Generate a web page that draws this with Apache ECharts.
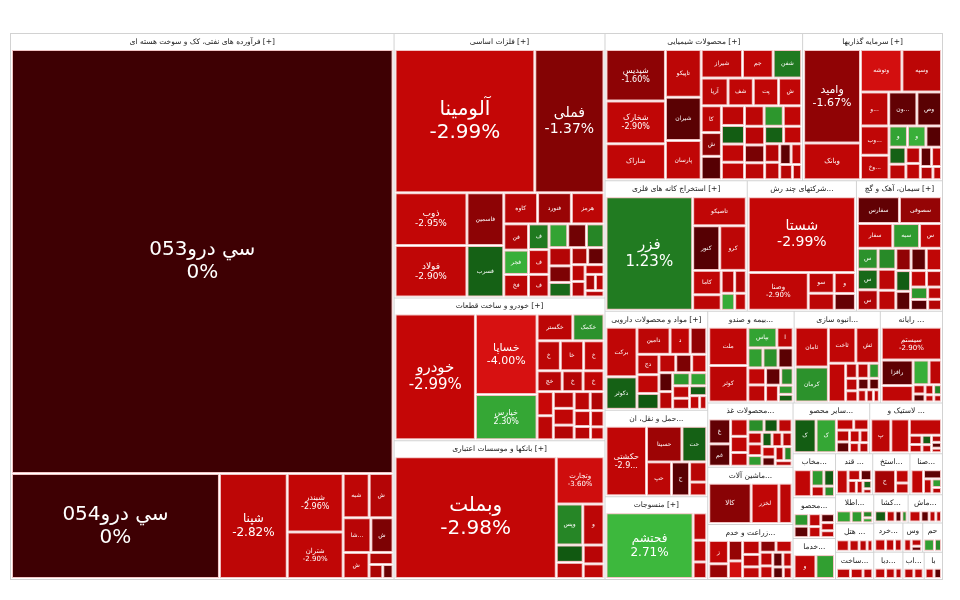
<!DOCTYPE html>
<html>
<head>
<meta charset="utf-8">
<script src="https://cdn.jsdelivr.net/npm/echarts@6/dist/echarts.min.js"></script>
<style>
  html, body { margin: 0; background: #fff; }
  #main { width: 960px; height: 600px; }
</style>
</head>
<body>
<div id="main"></div>
<script>
// [name, market value, change %]
const oil = [
  ['سي درو053', 1680, 0], ['سي درو054', 227, 0], ['شپنا', 74, -2.82],
  ['شبندر', 34, -2.96], ['شتران', 27, -2.9], ['شبهرن', 12, -2.85], ['شبریز', 11, -2.6],
  ['شاوان', 10, -2.7], ['شفارس', 8, -1.2], ['شسپا', 7, -2.9], ['شرانل', 3, -2.5],
  ['شنفت', 2, -2.4], ['شاملا', 1.5, -0.8]
];
const metals = [
  ['آلومینا', 216, -2.99], ['فملی', 107, -1.37], ['ذوب', 41, -2.95], ['فولاد', 40, -2.9],
  ['فاسمین', 21, -1.6], ['فسرب', 20.5, 0.6], ['فنورد', 11.4, -1.9], ['کاوه', 11.4, -2.7],
  ['هرمز', 11, -2.8], ['فنوال', 7, -2.5], ['فجر', 6.5, 2.5], ['فخاس', 6, -2.8],
  ['فسازان', 5.7, 1.2], ['فجام', 5.5, -2.9], ['فگستر', 5, -2.7], ['فباهنر', 4.8, -0.9],
  ['فروس', 4.8, 2.2], ['فلوله', 4.5, 1.5], ['فرآور', 4.4, -2.6], ['فاما', 4, -1.2],
  ['فمراد', 3.5, 0.8], ['فالوم', 3, -0.6], ['فتوسا', 3, -2.3], ['فزرین', 2.5, -2.8],
  ['فبیرا', 2.3, -2.6], ['فسوژ', 2, -2.9], ['فپنتا', 1.8, -2.4], ['فکمند', 1.5, -2.8],
  ['فوکا', 1.3, -2.7]
];
const cars = [
  ['خودرو', 116, -2.99], ['خساپا', 57, -4.0], ['خپارس', 32, 2.3], ['خگستر', 11, -2.8],
  ['خکمک', 9.6, 1.8], ['خاور', 8, -2.9], ['ختوقا', 8, -2.8], ['خمحرکه', 7, -2.9],
  ['خچرخش', 6, -2.7], ['خریخت', 5, -2.9], ['خمهر', 5, -2.6], ['خفنر', 4.5, -2.8],
  ['خزامیا', 4.5, -3.2], ['خکار', 4, -2.9], ['خلنت', 4, -2.7], ['خبهمن', 3.5, -2.8],
  ['خشرق', 3.5, -2.6], ['خرینگ', 3, -2.9], ['خاهن', 3, -2.5], ['خعمرا', 2.5, -2.8],
  ['ختور', 2.5, -2.7], ['خودکفا', 2, -2.9]
];
const banks = [
  ['وبملت', 226, -2.98], ['وتجارت', 26, -3.6], ['وپست', 12.5, 1.5], ['وسینا', 10, -2.8],
  ['ونوین', 5.4, 0.4], ['وخاور', 5, -2.8], ['وکار', 4.5, -2.7], ['وملل', 3.5, -2.9]
];
const chemicals = [
  ['شپدیس', 35, -1.6], ['شخارک', 29, -2.9], ['شاراک', 24.5, -2.9], ['تاپیکو', 19.5, -2.8],
  ['شیران', 17.7, -0.3], ['پارسان', 16, -2.9], ['شیراز', 13.5, -2.8], ['جم', 10, -2.9],
  ['شفن', 9.3, 1.2], ['آریا', 8.5, -2.8], ['پترول', 8, -2.9], ['شفارا', 8, -2.9],
  ['شگویا', 7.3, -2.9], ['کازرو', 6.2, -2.8], ['شصدف', 5.5, -1.6], ['شسینا', 5.4, -0.2],
  ['شبصیر', 5.2, -2.8], ['شپاکسا', 4.9, 0.5], ['شملا', 4.8, -2.9], ['شلعاب', 4.6, -2.8],
  ['شکربن', 4.6, -2.9], ['شوینده', 4.5, 1.9], ['شفا', 4.3, -2.7], ['شکام', 4.3, -2.9],
  ['شنیر', 4.1, -1.1], ['شدوص', 3.9, -2.8], ['شرنگی', 3.8, 0.6], ['شتوکا', 3.6, -2.9],
  ['شجم', 3.2, -2.6], ['شزنگ', 3, -2.8], ['شسم', 2.7, -0.4], ['شصفها', 2.5, -2.9],
  ['شکلر', 2.2, -2.7], ['شلرد', 1.6, -2.8]
];
const investments = [
  ['وامید', 61, -1.67], ['وبانک', 24, -2.9], ['وتوشه', 20.2, -3.8], ['وسپه', 19.3, -2.8],
  ['ونیکی', 11, -0.5], ['وتوسم', 11, -2.8], ['وبوعلی', 9.6, -2.9], ['وصنعت', 9.6, -0.3],
  ['وخارزم', 8, -2.9], ['ونفت', 4.5, 2.5], ['وپویا', 4.5, 2.2], ['وسکاب', 3.8, -0.2],
  ['وسکار', 3.3, 0.6], ['ولساپا', 3, -2.8], ['وسمگا', 2.7, -2.9], ['وآیند', 2.7, -2.7],
  ['واتی', 2.5, -0.4], ['وکبهمن', 2.2, -2.8], ['وسالت', 1.9, -2.6], ['ولتجار', 1.3, -2.9]
];
const mining = [
  ['فزر', 115, 1.23], ['تاصیکو', 18.2, -2.9], ['کنور', 14.1, -0.2], ['کروی', 13.8, -2.8],
  ['کاما', 8.1, -2.9], ['کگل', 5.2, -2.8], ['کدما', 3.6, -2.7], ['کچاد', 3.1, -2.6],
  ['کمنگنز', 2.7, 2.4], ['کسرام', 2.3, -2.9]
];
const multi = [
  ['شستا', 95.3, -2.99], ['وصنا', 26.6, -2.9], ['سو', 6.3, -2.8], ['وسنا', 5.2, -2.9],
  ['وپخش', 5.2, -2.8], ['ودی', 4.2, -0.6]
];
const cement = [
  ['سصوفی', 13.3, -1.8], ['سفارس', 13.3, -0.5], ['سفار', 10.3, -2.9], ['سبهان', 7.8, 2.0],
  ['سبجنو', 6.4, -2.9], ['سغرب', 5.1, 1.8], ['ساربیل', 5, -2.5], ['سخاش', 5, 0.8],
  ['سخزر', 4.4, -2.8], ['سصفها', 4.4, 1.6], ['سهرمز', 4.2, -2.8], ['سشمال', 4, -2.9],
  ['سکرما', 4, -0.4], ['سشرق', 4, -1.7], ['سیتا', 3.6, 0.5], ['سدور', 3.3, -0.3],
  ['سبزوا', 3.1, -2.9], ['سفانو', 2.9, -2.7], ['سارود', 2.5, 1.9], ['سقاین', 2.2, -0.2],
  ['سکارون', 2, -2.8], ['سنیر', 1.8, -2.6]
];
const pharma = [
  ['برکت', 18.9, -2.9], ['دکوثر', 12.4, 0.6], ['دامین', 11, -2.8], ['دسینا', 6.7, -2.9],
  ['دجابر', 5.5, -2.8], ['دالبر', 5.5, -1.7], ['دتماد', 5.1, -2.9], ['دفارا', 4.3, 0.4],
  ['دلر', 3.8, -2.8], ['درازک', 3.6, -1.2], ['دشیمی', 3.4, -2.9], ['دعبید', 3.2, -0.3],
  ['دزهراوی', 3, -2.7], ['دپارس', 2.8, 1.9], ['دسبحا', 2.7, 2.2], ['دابور', 2.6, -2.8],
  ['دتولید', 2.3, -2.6], ['دکیمی', 2.1, 0.5], ['داوه', 1.7, -2.9], ['دفرا', 1.2, -2.8]
];
const transport = [
  ['حکشتی', 35.8, -2.9], ['حسینا', 16, -2.0], ['حتوکا', 11.2, 0.6], ['حپترو', 10.8, -2.8],
  ['حفارس', 7.8, -0.3], ['حریل', 4.4, -2.7], ['حآسا', 3, -2.9]
];
const textile = [
  ['فحتشم', 73.5, 2.71], ['نطرین', 4.8, -2.8], ['نبروج', 3.8, -2.9], ['نگین', 2.9, -2.7]
];
const estate = [
  ['ثامان', 16.6, -2.9], ['کرمان', 14.6, 1.8], ['ثاخت', 12.4, -2.9], ['ثشاهد', 10.6, -2.8],
  ['ثعمرا', 8.4, -2.9], ['ثالوند', 2.2, -2.7], ['ثفارس', 2.2, -2.6], ['ثنوسا', 2, 2.0],
  ['ثشرق', 1.9, -2.8], ['ثتران', 1.7, -2.9], ['ثباغ', 1.6, -0.4], ['ثاصفا', 1.5, -0.3],
  ['ثپردیس', 1.3, -2.8], ['ثمسکن', 1.1, -2.5], ['ثزاگرس', 0.9, -2.9]
];
const insurance = [
  ['ملت', 18.8, -2.9], ['کوثر', 17.9, -2.8], ['بپاس', 7.5, 2.2], ['اتکای', 4.2, -2.8],
  ['بساما', 3.8, -2.8], ['بنو', 3.8, -2.9], ['البرز', 3.8, -0.3], ['حافظ', 3.8, 1.8],
  ['وکوثر', 3.8, 2.1], ['بما', 3.3, -0.5], ['ودانا', 2.7, -2.7], ['وتعاون', 2.7, 1.6],
  ['بآسیا', 1.7, 2.0], ['بمیلا', 1.4, 0.6]
];
const food = [
  ['غبشهر', 7.6, -0.5], ['غمارگ', 6.8, -0.3], ['غکورش', 4.2, -2.8], ['غدیس', 3.9, -2.9],
  ['غشاذر', 3.3, -2.7], ['غنوش', 3, 1.7], ['غپاک', 2.6, -2.8], ['غچین', 2.6, 0.4],
  ['غزر', 2.3, -2.9], ['غشصفا', 2.3, -2.8], ['غاذر', 2.1, 2.0], ['غگل', 2, -2.6],
  ['غمینو', 2, -2.8], ['غپینو', 2, 0.5], ['غصینو', 1.9, -2.9], ['غسالم', 1.7, -2.7],
  ['غگرجی', 1.7, -0.3], ['غفارس', 1.6, 1.5], ['غبهنوش', 1.3, -2.6]
];
const computers = [
  ['سیستم', 25, -2.9], ['رافزا', 10.3, -0.4], ['سپ', 6.6, -2.9], ['فن‌آوا', 5, 2.5],
  ['مفاخر', 3.9, -2.8], ['تاپکیش', 1.4, -2.7], ['رتاپ', 1.2, -0.3], ['امین', 1.1, -2.8],
  ['مداران', 1, 1.4], ['سمگا', 0.8, -2.9], ['پرداخت', 0.7, -2.6]
];
const machinery = [['کالا', 24.9, -1.5], ['لخزر', 16.3, -2.9], ['کرازی', 7.7, -2.8]];
const farming = [
  ['زماهان', 6.8, -2.9], ['زدشت', 4.3, -1.8], ['زملارد', 4.3, -1.9], ['زبینا', 3.7, -3.8],
  ['زکوثر', 3.6, -2.8], ['زقیام', 3.2, -2.7], ['زشریف', 3, -2.9], ['زفکا', 2.8, -2.9],
  ['زگلدشت', 2.8, -1.5], ['زپارس', 2.6, -2.8], ['زشگزا', 2.4, -2.9], ['زمگسا', 2.2, -0.5],
  ['زنگان', 2, -2.8], ['زفجر', 1.8, -0.3], ['زکشت', 1.5, -2.6]
];
const rubber = [
  ['پتایر', 10.5, -2.8], ['پکویر', 9.7, -2.9], ['پلاسک', 8.1, -2.9], ['پاکشو', 1.8, -2.7],
  ['پسهند', 1.6, -2.9], ['پدرخش', 1.4, 0.5], ['پکرمان', 1.2, -2.8], ['پارتا', 1.1, -2.6],
  ['پشاهن', 0.9, -0.3], ['پیزد', 0.7, -2.9]
];
const minerals = [
  ['کسرا', 11.5, 0.5], ['کساوه', 10.6, 2.3], ['کفرا', 3, -2.9], ['کاوان', 2.6, -2.8],
  ['کلوند', 2.4, -2.7], ['کهمدا', 2.2, -0.4], ['کیمیا', 2, -2.9], ['کفپارس', 1.7, -2.8],
  ['کگاز', 1.5, -2.6], ['کتوکا', 1.5, -2.9]
];
const engineering = [['وبنا', 9.4, -2.9], ['کیسون', 8, 2.1]];
const sugar = [
  ['قثابت', 5, -2.9], ['قنیشا', 2.4, -2.8], ['قمرو', 2.2, -0.4], ['قشکر', 2, -2.7],
  ['قپیرا', 1.6, -2.9], ['قلرست', 1.3, 0.7], ['قزوین', 0.8, -2.6]
];
const hotels = [['گکیش', 3.8, -2.9], ['گشان', 3, -2.8], ['گردش', 2.4, -2.7], ['گپارس', 1.7, -2.9]];
const metalProducts = [['فنرژی', 4, -2.8], ['فجهان', 3.6, -2.9], ['فلامی', 2.8, -2.7]];
const electric = [['بشهاب', 3.5, -2.9], ['بموتو', 2.5, -0.4], ['بترانس', 2, -2.8], ['بنیرو', 1.7, -2.6]];
const telecomInfo = [['اخابر', 4.5, 2.2], ['همراه', 3.5, 2.0], ['ارفع', 1.8, 1.5], ['آپ', 1.3, 2.3]];
const livestock = [['زاگرس', 3.5, 0.5], ['سیمرغ', 2.6, -2.8], ['مرغ', 2, -0.3], ['زبرکت', 1.6, 1.8]];
const paper = [
  ['چکاپا', 3.3, 1.9], ['چفیبر', 3, -0.4], ['چکارن', 2.8, -2.8], ['چدن', 2.4, -2.9],
  ['چکاوه', 2.2, -0.3], ['چافست', 2, -2.7], ['چخزر', 1.7, -2.8]
];
const misc = [['قلندر', 5.5, -2.9], ['سامان', 3, -0.4], ['لطیف', 2.3, -2.8], ['تکنو', 1.5, 2.1], ['لپارس', 1.1, -2.7]];
const telecom = [['سیانا', 8, -2.9], ['شاروم', 3.5, 2.0], ['رکیش', 3, 0.5], ['رانفور', 2.3, -2.8], ['نتوان', 1.9, 1.7]];
const drilling = [['حفاری', 9.5, -2.2], ['اکتشاف', 3.2, -2.9], ['نفتی', 2.6, -2.8]];
const leather = [['بالبر', 3.2, -2.9], ['چرم', 2.8, -2.8], ['بورس', 2, -2.7]];
const vehicles = [['لسرما', 2.4, -2.9], ['آلتون', 2, -2.8], ['توان', 1.4, -0.4]];
const medical = [['دتهران', 3, -2.8], ['تجهیز', 2.8, -2.9]];
const retail = [['افرا', 3.4, -2.9], ['رفاه', 2.8, -2.8], ['کورش', 2.3, -2.7]];
const shipping = [['حسیرا', 3.5, 2.1], ['حبندر', 2.3, 1.6]];
const trade = [['بازرگام', 2.7, -2.8], ['وتجار', 2.3, -0.3]];

const sectorNames = [
  'فرآورده های نفتی، کک و سوخت هسته ای', 'فلزات اساسی', 'خودرو و ساخت قطعات',
  'بانکها و موسسات اعتباری', 'محصولات شیمیایی', 'سرمایه گذاریها',
  'استخراج کانه های فلزی', 'شرکتهای چند رشته ای صنعتی', 'سیمان، آهک و گچ',
  'مواد و محصولات دارویی', 'حمل و نقل، انبارداری و ارتباطات', 'منسوجات',
  'انبوه سازی، املاک و مستغلات', 'بیمه و صندوق بازنشستگی', 'محصولات غذایی و آشامیدنی',
  'رایانه و فعالیتهای وابسته', 'ماشین آلات و تجهیزات', 'زراعت و خدمات وابسته',
  'لاستیک و پلاستیک', 'سایر محصولات کانی غیرفلزی', 'خدمات فنی و مهندسی', 'قند و شکر',
  'هتل و رستوران', 'ساخت محصولات فلزی', 'ماشین آلات برقی', 'اطلاعات و ارتباطات',
  'کشاورزی و دامپروری', 'محصولات کاغذی', 'صنایع متفرقه', 'مخابرات',
  'استخراج نفت و گاز', 'دباغی و چرم', 'وسایل ارتباطی', 'ابزار پزشکی',
  'خرده فروشی', 'حمل و نقل آبی', 'بازرگانی'
];
const sectorLeaves = [
  oil, metals, cars, banks, chemicals, investments, mining, multi, cement, pharma,
  transport, textile, estate, insurance, food, computers, machinery, farming, rubber,
  minerals, engineering, sugar, hotels, metalProducts, electric, telecomInfo, livestock,
  paper, misc, telecom, drilling, leather, vehicles, medical, retail, shipping, trade
];

function mix(a, b, t) {
  const c = a.map((v, i) => Math.round(v + (b[i] - v) * t));
  return 'rgb(' + c.join(',') + ')';
}
function heat(c) {
  if (c === 0) return '#3e0003';
  if (c > 0) return mix([10, 72, 10], [66, 196, 66], Math.min(c, 3) / 3);
  const d = Math.min(-c, 5);
  if (d <= 3) return mix([78, 0, 3], [196, 6, 6], d / 3);
  return mix([196, 6, 6], [234, 28, 28], (d - 3) / 2);
}

function leaf(t) {
  const fs = Math.max(6, Math.min(20, Math.round(1.4 * Math.sqrt(t[1]))));
  return {
    name: t[0],
    value: t[1],
    change: t[2],
    itemStyle: { color: heat(t[2]) },
    label: { fontSize: fs, lineHeight: Math.round(fs * 1.15) }
  };
}

const treeData = sectorNames.map((n, i) => ({ name: n, children: sectorLeaves[i].map(leaf) }));

const chart = echarts.init(document.getElementById('main'));
chart.setOption({
  animation: false,
  series: [{
    type: 'treemap',
    left: 10,
    top: 33,
    width: 933,
    height: 547,
    squareRatio: 1,
    roam: false,
    nodeClick: false,
    breadcrumb: { show: false },
    data: treeData,
    label: {
      show: true,
      position: 'inside',
      color: '#fff',
      fontFamily: 'DejaVu Sans',
      overflow: 'truncate',
      formatter: function (p) {
        if (p.value < 25) return p.name;
        const c = p.data.change;
        return p.name + '\n' + (c === 0 ? '0' : c.toFixed(2)) + '%';
      }
    },
    levels: [
      { itemStyle: { borderColor: '#d2d2d2', borderWidth: 1, gapWidth: 1 } },
      {
        itemStyle: { color: '#fff', borderColor: '#fff', borderWidth: 1, gapWidth: 1 },
        upperLabel: {
          show: true,
          height: 16,
          color: '#222',
          fontSize: 7.5,
          fontFamily: 'DejaVu Sans',
          position: 'inside',
          formatter: '{b} [+]'
        }
      },
      { itemStyle: { borderColor: '#f2c4c4', borderWidth: 1, gapWidth: 0 } }
    ]
  }]
});
</script>
</body>
</html>
